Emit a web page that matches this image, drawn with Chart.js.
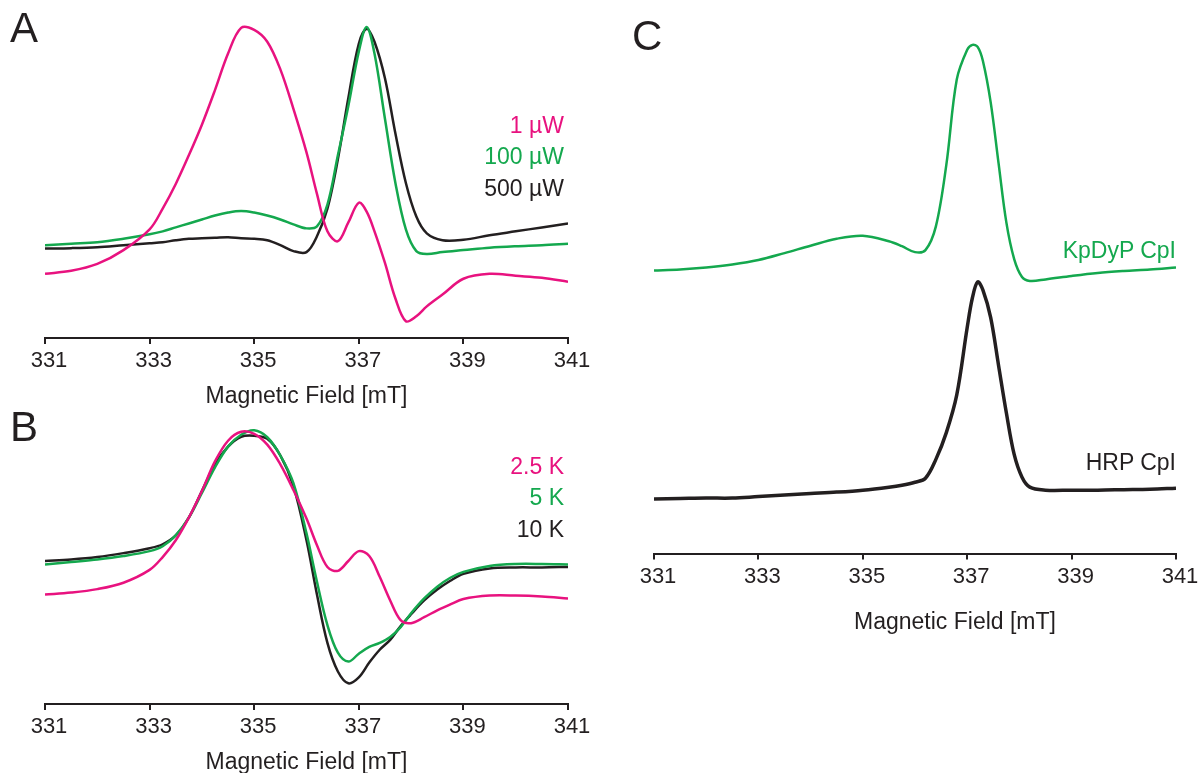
<!DOCTYPE html>
<html lang="en">
<head>
<meta charset="utf-8">
<title>EPR spectra – panels A, B, C</title>
<script src="https://cdn.jsdelivr.net/npm/chart.js@4.4.1/dist/chart.umd.min.js"></script>
<style>
  html, body { margin: 0; padding: 0; background: #fff; }
  body {
    position: relative;
    width: 1203px;
    height: 773px;
    overflow: hidden;
    font-family: "Liberation Sans", Arial, sans-serif;
    color: #231f20;
  }
  canvas { position: absolute; }
  .letter { position: absolute; font-size: 42px; line-height: 1; }
  .legend { position: absolute; font-size: 23px; line-height: 1; text-align: right; white-space: nowrap; }
  .axis-title { position: absolute; font-size: 23px; line-height: 1; white-space: nowrap; transform: translateX(-50%); }
</style>
</head>
<body>
<canvas id="chartA" style="left:0;top:0" width="600" height="420"></canvas>
<canvas id="chartB" style="left:0;top:400px" width="600" height="376"></canvas>
<canvas id="chartC" style="left:610px;top:0" width="593" height="650"></canvas>

<div class="letter" style="left:10px;top:7px">A</div>
<div class="letter" style="left:10px;top:406px">B</div>
<div class="letter" style="left:632px;top:15px">C</div>
<div class="axis-title" style="left:955px;top:610px">Magnetic Field [mT]</div>

<script>
// magnetic field axis (mT)
const fieldTicks = [331, 333, 335, 337, 339, 341];

// panel A: microwave power series, signal in arbitrary units
const fieldA = [331, 331.5, 332, 332.5, 333, 333.25, 333.5, 333.75, 334, 334.25, 334.5, 334.75, 335, 335.25, 335.5, 335.75, 336, 336.2, 336.4, 336.6, 336.8, 337, 337.15, 337.3, 337.5, 337.7, 337.9, 338.1, 338.3, 338.6, 339, 339.5, 340, 340.5, 341];
const power1uW = [65, 68, 75, 89, 110, 131, 156, 185, 216, 251, 288, 314, 312, 300, 272, 232, 188, 146, 108, 98, 117, 137, 128, 108, 76, 40, 17, 22, 32, 44, 60, 65, 63, 61, 57];
const power100uW = [94, 95.5, 97, 100.5, 105, 108, 112, 116, 120, 124, 127, 128.5, 127, 124, 120, 115, 111, 113, 135, 185, 235, 290, 315, 288, 222, 157, 110, 88, 85, 87, 89, 91.5, 93, 94, 95.5];
const power500uW = [90.5, 91, 92, 94, 96, 97, 99, 100.5, 101, 101.5, 102, 101, 100.5, 99, 94, 88, 87, 103, 131, 181, 243, 298, 313, 300, 263, 207, 157, 123, 106, 99, 99.5, 104, 108, 112, 116];
const labelsA = ["1 µW", "100 µW", "500 µW"];

// panel B: temperature series
const fieldB = [331, 331.5, 332, 332.5, 333, 333.25, 333.5, 333.75, 334, 334.25, 334.5, 334.75, 335, 335.25, 335.5, 335.75, 336, 336.2, 336.4, 336.6, 336.8, 337, 337.2, 337.4, 337.6, 337.8, 338, 338.25, 338.5, 338.75, 339, 339.5, 340, 340.5, 341];
const temp2_5K = [111, 113, 116.5, 123, 136, 149, 166, 189, 216, 246, 267, 276, 274, 263, 243, 217, 188, 161, 139, 135, 145, 155, 150, 129, 105, 85, 82, 88, 95, 101, 106.5, 110, 110, 109, 107];
const temp5K = [141.5, 144, 146.5, 150, 155, 160, 171, 189, 214, 240, 261, 273, 277.5, 270.5, 252, 224, 173, 124, 80, 52, 43, 51, 58, 62, 68, 78, 92, 107, 119, 128, 134, 140, 142, 142, 141.5];
const temp10K = [145, 146.5, 149, 153, 158, 162, 171, 189, 216, 243, 261, 271, 272, 269, 252, 221, 166, 111, 62, 33, 21, 27, 42, 55, 65, 79, 91, 105, 116, 125, 132, 137.5, 138.5, 138.5, 139];
const labelsB = ["2.5 K", "5 K", "10 K"];

// panel C: KpDyP vs HRP compound I
const fieldC = [331, 331.5, 332, 332.5, 333, 333.5, 334, 334.5, 335, 335.5, 335.75, 336, 336.2, 336.4, 336.6, 336.8, 337, 337.1, 337.2, 337.3, 337.45, 337.6, 337.75, 337.9, 338.05, 338.2, 338.5, 339, 339.5, 340, 340.5, 341];
const kpdypCpI = [285.5, 286.5, 288.5, 291.5, 296, 303, 310.5, 317.5, 320.5, 315, 310, 304, 306, 330, 392, 478, 508, 513, 511, 497, 455, 394, 334, 297, 279, 275, 276.5, 280, 283, 285, 286.5, 288.5];
const hrpCpI = [55, 55.5, 56, 56, 57.5, 59, 60.5, 62, 64, 67, 69, 72, 76, 95, 122, 160, 228, 258, 274, 266, 238, 190, 142, 100, 77, 67, 64, 64, 64, 64.5, 65, 66];
const labelsC = ["KpDyP CpI", "HRP CpI"];

(function () {
  "use strict";

  const MAGENTA = "#e8127f";
  const GREEN = "#14a84e";
  const BLACK = "#231f20";
  const FONT = '"Liberation Sans", Arial, sans-serif';

  Chart.defaults.font.family = FONT;
  Chart.defaults.color = BLACK;

  function points(xs, ys) {
    return xs.map((x, i) => ({ x, y: ys[i] }));
  }

  function series(label, xs, ys, color, width) {
    return {
      label,
      data: points(xs, ys),
      borderColor: color,
      backgroundColor: color,
      borderWidth: width || 2.5,
      pointRadius: 0,
      tension: 0.35,
      fill: false
    };
  }

  function makeChart(id, datasets, yMax, padding, showTitle) {
    return new Chart(document.getElementById(id), {
      type: "line",
      data: { datasets },
      options: {
        responsive: false,
        animation: false,
        layout: { padding },
        plugins: {
          legend: { display: false },
          tooltip: { enabled: false }
        },
        scales: {
          x: {
            type: "linear",
            min: fieldTicks[0],
            max: fieldTicks[fieldTicks.length - 1],
            afterBuildTicks: (axis) => {
              axis.ticks = fieldTicks.map((value) => ({ value }));
            },
            ticks: {
              color: BLACK,
              font: { size: 22 },
              padding: 4,
              labelOffset: 4,
              maxRotation: 0,
              autoSkip: false
            },
            grid: {
              drawOnChartArea: false,
              drawTicks: true,
              tickLength: 6,
              color: BLACK,
              lineWidth: 2
            },
            border: { display: true, color: BLACK, width: 2 },
            title: {
              display: showTitle,
              text: "Magnetic Field [mT]",
              color: BLACK,
              font: { size: 23 },
              padding: { top: 4, bottom: 0 }
            }
          },
          y: { display: false, min: 0, max: yMax }
        }
      }
    });
  }

  function addLegend(labels, colors, right, firstTop, gap) {
    labels.forEach((text, i) => {
      const div = document.createElement("div");
      div.className = "legend";
      div.textContent = text;
      div.style.right = right + "px";
      div.style.top = (firstTop + i * gap) + "px";
      div.style.color = colors[i];
      document.body.appendChild(div);
    });
  }

  makeChart("chartA", [
    series(labelsA[0], fieldA, power1uW, MAGENTA),
    series(labelsA[1], fieldA, power100uW, GREEN),
    series(labelsA[2], fieldA, power500uW, BLACK)
  ], 322, { left: 45, right: 32, top: 20, bottom: 10 }, true);

  makeChart("chartB", [
    series(labelsB[0], fieldB, temp2_5K, MAGENTA),
    series(labelsB[1], fieldB, temp5K, GREEN),
    series(labelsB[2], fieldB, temp10K, BLACK)
  ], 288, { left: 45, right: 32, top: 20, bottom: 0 }, true);

  makeChart("chartC", [
    series(labelsC[0], fieldC, kpdypCpI, GREEN),
    series(labelsC[1], fieldC, hrpCpI, BLACK, 3.5)
  ], 528, { left: 44, right: 27, top: 30, bottom: 56 }, false);

  addLegend(labelsA, [MAGENTA, GREEN, BLACK], 639, 113.5, 31.5);
  addLegend(labelsB, [MAGENTA, GREEN, BLACK], 639, 454.5, 31.5);
  addLegend(labelsC, [GREEN, BLACK], 27, 238.5, 212);
})();
</script>
</body>
</html>
